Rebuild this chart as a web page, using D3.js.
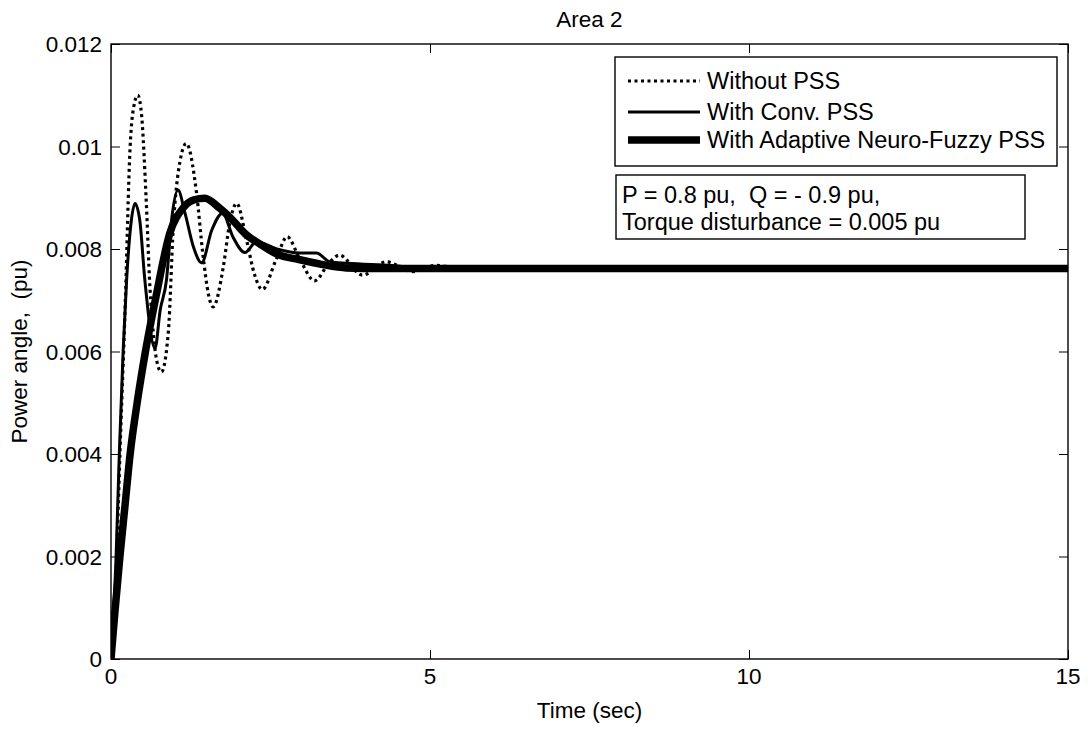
<!DOCTYPE html>
<html lang="en">
<head>
    <meta charset="UTF-8">
    <title>Area 2</title>
    <script src="https://cdn.jsdelivr.net/npm/d3@7"></script>
    <style>
        body { margin: 0; background: #fff; }
        text { font-family: "Liberation Sans", Arial, sans-serif; fill: #000; }
    </style>
</head>
<body>
    <script>
        //width, height and plot box (names avoid window.top)
        var w = 1088;
        var h = 729;
        var plotLeft = 111, plotRight = 1068, plotTop = 44, plotBottom = 659;

        // series: [time (sec), power angle (pu)]
        var withoutPSS = [
            [0, 0], [0.03, 0.0003], [0.06, 0.0008], [0.09, 0.002], [0.14, 0.004],
            [0.22, 0.0068], [0.30, 0.0100], [0.36, 0.0108], [0.42, 0.0110], [0.48, 0.0106],
            [0.55, 0.0090], [0.61, 0.00726], [0.66, 0.0064], [0.72, 0.0058], [0.79, 0.0056],
            [0.90, 0.0064], [0.975, 0.0084], [1.08, 0.0097], [1.18, 0.01006], [1.34, 0.0091],
            [1.44, 0.0079], [1.53, 0.0071], [1.60, 0.00687], [1.76, 0.00765], [1.86, 0.0085],
            [1.97, 0.00889], [2.12, 0.0082], [2.25, 0.0075], [2.37, 0.00721], [2.59, 0.0078],
            [2.76, 0.00824], [2.96, 0.0078], [3.19, 0.00738], [3.43, 0.00775], [3.58, 0.00788],
            [3.94, 0.00749], [4.31, 0.00775], [4.73, 0.00756], [5.1, 0.00768], [5.5, 0.00762],
            [15, 0.00762]
        ];
        var withConvPSS = [
            [0, 0], [0.04, 0.0008], [0.08, 0.002], [0.13, 0.004], [0.19, 0.006],
            [0.245, 0.0074], [0.32, 0.00857], [0.376, 0.00889], [0.45, 0.00857], [0.53, 0.0074],
            [0.69, 0.00606], [0.77, 0.0068], [0.87, 0.0074], [0.95, 0.00857], [1.05, 0.00915],
            [1.16, 0.0087], [1.29, 0.00805], [1.42, 0.00773], [1.58, 0.00837], [1.75, 0.0087],
            [1.91, 0.00824], [2.10, 0.00793], [2.28, 0.00814], [2.6, 0.0080], [2.96, 0.00792],
            [3.22, 0.00792], [3.43, 0.00775], [3.7, 0.00772], [4.4, 0.00768], [5.0, 0.00762],
            [5.8, 0.00764], [7.2, 0.00764], [7.4, 0.00762], [15, 0.00762]
        ];
        var withANFPSS = [
            [0, 0], [0.06, 0.0009], [0.14, 0.002], [0.22, 0.003], [0.30, 0.004],
            [0.41, 0.005], [0.54, 0.006], [0.71, 0.0071], [0.92, 0.0083], [1.13, 0.0088],
            [1.3, 0.00896], [1.47, 0.00899], [1.7, 0.0088], [1.91, 0.00856], [2.1, 0.0083],
            [2.33, 0.0081], [2.6, 0.0079], [2.96, 0.00779], [3.3, 0.0077], [3.69, 0.00763],
            [4.2, 0.00762], [15, 0.00762]
        ];

        var xTicks = [0, 5, 10, 15];
        var yTicks = [0, 0.002, 0.004, 0.006, 0.008, 0.01, 0.012];
        var seriesNames = ['Without PSS', 'With Conv. PSS', 'With Adaptive Neuro-Fuzzy PSS'];
        var noteLines = ['P = 0.8 pu,  Q = - 0.9 pu,', 'Torque disturbance = 0.005 pu'];

        //create scales
        var xScale = d3.scaleLinear().domain([0, 15]).range([plotLeft, plotRight]);
        var yScale = d3.scaleLinear().domain([0, 0.012]).range([plotBottom, plotTop]);

        var svg = d3.select('body')
                    .append('svg')
                    .attr('width', w)
                    .attr('height', h);

        svg.append('clipPath')
            .attr('id', 'plot-area')
            .append('rect')
            .attr('x', plotLeft)
            .attr('y', plotTop)
            .attr('width', plotRight - plotLeft)
            .attr('height', plotBottom - plotTop);

        //line styles: dotted, thin solid, thick solid
        var styles = [
            { width: 3.2, dash: '3,3.5' },
            { width: 3, dash: null },
            { width: 7.5, dash: null }
        ];

        var line = d3.line()
                     .x(function(d) { return xScale(d[0]); })
                     .y(function(d) { return yScale(d[1]); })
                     .curve(d3.curveMonotoneX);

        var lines = svg.append('g').attr('clip-path', 'url(#plot-area)');
        [withANFPSS, withConvPSS, withoutPSS].forEach(function(data, i) {
            var s = styles[2 - i];
            lines.append('path')
                .datum(data)
                .attr('d', line)
                .attr('fill', 'none')
                .attr('stroke', '#000')
                .attr('stroke-width', s.width)
                .attr('stroke-linejoin', 'round')
                .attr('stroke-dasharray', s.dash);
        });

        //axes box
        svg.append('rect')
            .attr('x', plotLeft)
            .attr('y', plotTop)
            .attr('width', plotRight - plotLeft)
            .attr('height', plotBottom - plotTop)
            .attr('fill', 'none')
            .attr('stroke', '#000')
            .attr('stroke-width', 1.4);

        //inward ticks on all four sides, axes from d3
        var tickLen = 9;
        function noDomain(g) { g.select('.domain').remove(); }
        svg.append('g')
            .attr('transform', 'translate(0,' + plotBottom + ')')
            .call(d3.axisTop(xScale).tickValues(xTicks).tickSize(tickLen).tickFormat(''))
            .call(noDomain);
        svg.append('g')
            .attr('transform', 'translate(0,' + plotTop + ')')
            .call(d3.axisBottom(xScale).tickValues(xTicks).tickSize(tickLen).tickFormat(''))
            .call(noDomain);
        svg.append('g')
            .attr('transform', 'translate(' + plotLeft + ',0)')
            .call(d3.axisRight(yScale).tickValues(yTicks).tickSize(tickLen).tickFormat(''))
            .call(noDomain);
        svg.append('g')
            .attr('transform', 'translate(' + plotRight + ',0)')
            .call(d3.axisLeft(yScale).tickValues(yTicks).tickSize(tickLen).tickFormat(''))
            .call(noDomain);

        //tick labels
        svg.append('g').selectAll('text')
            .data(xTicks)
            .enter()
            .append('text')
            .attr('x', function(d) { return xScale(d); })
            .attr('y', 684)
            .attr('text-anchor', 'middle')
            .attr('font-size', 22.5)
            .text(function(d) { return d; });

        svg.append('g').selectAll('text')
            .data(yTicks)
            .enter()
            .append('text')
            .attr('x', plotLeft - 9)
            .attr('y', function(d) { return yScale(d) + 8; })
            .attr('text-anchor', 'end')
            .attr('font-size', 22.5)
            .text(function(d) { return String(+d.toFixed(3)); });

        //title and axis labels
        svg.append('text')
            .attr('x', (plotLeft + plotRight) / 2)
            .attr('y', 27)
            .attr('text-anchor', 'middle')
            .attr('font-size', 22.5)
            .text('Area 2');

        svg.append('text')
            .attr('x', (plotLeft + plotRight) / 2)
            .attr('y', 718)
            .attr('text-anchor', 'middle')
            .attr('font-size', 22.5)
            .text('Time (sec)');

        svg.append('text')
            .attr('transform', 'translate(27,' + ((plotTop + plotBottom) / 2) + ') rotate(-90)')
            .attr('text-anchor', 'middle')
            .attr('font-size', 22.5)
            .attr('xml:space', 'preserve')
            .style('white-space', 'pre')
            .text('Power angle,  (pu)');

        //legend
        var legend = svg.append('g');
        legend.append('rect')
            .attr('x', 615).attr('y', 57)
            .attr('width', 442).attr('height', 109)
            .attr('fill', '#fff')
            .attr('stroke', '#000')
            .attr('stroke-width', 1.4);

        var rowY = [81, 112, 140];
        seriesNames.forEach(function(name, i) {
            legend.append('line')
                .attr('x1', 628).attr('x2', 700)
                .attr('y1', rowY[i]).attr('y2', rowY[i])
                .attr('stroke', '#000')
                .attr('stroke-width', styles[i].width)
                .attr('stroke-dasharray', styles[i].dash);
            legend.append('text')
                .attr('x', 707)
                .attr('y', rowY[i] + 7.5)
                .attr('font-size', 23.5)
                .text(name);
        });

        //annotation box
        var note = svg.append('g');
        note.append('rect')
            .attr('x', 616).attr('y', 175)
            .attr('width', 409).attr('height', 64)
            .attr('fill', '#fff')
            .attr('stroke', '#000')
            .attr('stroke-width', 1.4);
        note.selectAll('text')
            .data(noteLines)
            .enter()
            .append('text')
            .attr('x', 622)
            .attr('y', function(d, i) { return 203 + i * 27; })
            .attr('font-size', 23.5)
            .attr('xml:space', 'preserve')
            .style('white-space', 'pre')
            .text(function(d) { return d; });
    </script>
</body>
</html>
